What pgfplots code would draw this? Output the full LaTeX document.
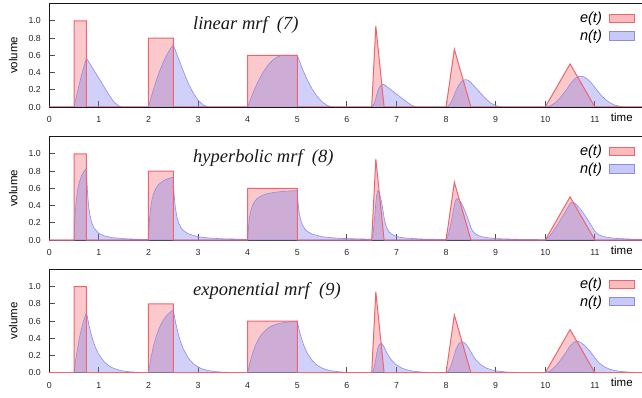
\documentclass[border=0pt]{standalone}
\usepackage{pgfplots}
\usepackage{pgfplotstable}
\pgfplotsset{compat=1.18}
\usepackage{fontspec}
\setmainfont{Liberation Sans}
\newfontfamily\titlefont{Liberation Serif}
\definecolor{efill}{RGB}{245,120,125}
\definecolor{eline}{RGB}{240,100,110}
\definecolor{nfill}{RGB}{120,120,235}
\definecolor{nline}{RGB}{140,140,230}

\pgfplotstableread{
x y
0 0
0.5 0
0.5 1.0
0.75 1.0
0.75 0
2 0
2 0.8
2.5 0.8
2.5 0
4 0
4 0.6
5 0.6
5 0
6.5 0
6.5833 0.94
6.75 0
8 0
8.1667 0.67
8.5 0
10 0
10.5 0.5
11 0
11.95 0
}\edata

\pgfplotstableread{
x y
0 0
0.5 0
0.55 0.1323
0.6 0.2552
0.65 0.3688
0.7 0.4729
0.75 0.5677
0.8 0.5208
0.9 0.4269
1.0 0.3331
1.1 0.2392
1.2 0.1454
1.23 0.1173
1.3 0.0608
1.4 0.0120
1.48 0
2.0 0
2.05 0.1058
2.1 0.2042
2.15 0.2950
2.2 0.3783
2.25 0.4542
2.3 0.5225
2.35 0.5833
2.4 0.6366
2.45 0.6823
2.5 0.7206
2.55 0.6455
2.6 0.5705
2.7 0.4203
2.8 0.2775
2.9 0.1634
3.0 0.0794
3.1 0.0253
3.2 0.0013
3.23 0
4.0 0
4.05 0.0794
4.1 0.1531
4.15 0.2213
4.2 0.2837
4.25 0.3406
4.3 0.3919
4.35 0.4375
4.4 0.4774
4.45 0.5117
4.5 0.5405
4.55 0.5635
4.6 0.5810
4.65 0.5928
4.73 0.6
5.0 0.6
5.1 0.4469
5.2 0.3162
5.3 0.2081
5.4 0.1226
5.5 0.0595
5.6 0.0190
5.7 0.0010
5.73 0
6.5 0
6.55 0.0378
6.5833 0.1032
6.62 0.1796
6.65 0.2240
6.7 0.2630
6.75 0.2607
6.8 0.2387
6.9 0.1945
7.0 0.1504
7.1 0.1063
7.2 0.0622
7.3 0.0207
7.4 0.0019
7.48 0
8.0 0
8.05 0.0135
8.1 0.0526
8.1667 0.1413
8.2 0.1911
8.25 0.2497
8.3 0.2898
8.35 0.3124
8.4 0.3184
8.45 0.3087
8.5 0.2843
8.6 0.2214
8.7 0.1586
8.8 0.0966
8.9 0.0452
9.0 0.0153
9.1 0.0028
9.23 0
10.0 0
10.1 0.0131
10.2 0.0498
10.3 0.1064
10.4 0.1791
10.5 0.2643
10.6 0.3319
10.65 0.3496
10.7 0.3571
10.75 0.3550
10.8 0.3439
10.9 0.2984
11.0 0.2281
11.1 0.1537
11.2 0.0931
11.3 0.0497
11.4 0.0225
11.5 0.0076
11.6 0.0014
11.73 0
11.95 0
}\nlin

\pgfplotstableread{
x y
0 0
0.5 0
0.51 0.1639
0.52 0.2817
0.54 0.4396
0.57 0.5785
0.6 0.6623
0.65 0.7463
0.7 0.7968
0.75 0.8306
0.76 0.6721
0.77 0.5594
0.79 0.4108
0.82 0.2840
0.85 0.2105
0.9 0.1406
1.0 0.0768
1.1 0.0489
1.25 0.0289
1.5 0.0151
1.75 0.0093
2.0 0.0063
2.01 0.1374
2.02 0.2316
2.04 0.3577
2.07 0.4688
2.1 0.5355
2.15 0.6023
2.2 0.6425
2.3 0.6881
2.4 0.7134
2.5 0.7295
2.51 0.5997
2.52 0.5066
2.54 0.3827
2.57 0.2748
2.6 0.2107
2.65 0.1477
2.7 0.1111
2.8 0.0709
3.0 0.0375
3.25 0.0214
3.5 0.0140
4.0 0.0075
4.01 0.1058
4.02 0.1765
4.04 0.2712
4.07 0.3544
4.1 0.4046
4.15 0.4549
4.2 0.4850
4.3 0.5195
4.4 0.5386
4.5 0.5491
4.6 0.5575
4.75 0.5658
5.0 0.5742
5.01 0.4761
5.02 0.4057
5.04 0.3115
5.07 0.2289
5.1 0.1792
5.15 0.1298
5.2 0.1004
5.3 0.0674
5.5 0.0382
5.75 0.0233
6.0 0.0160
6.5 0.0092
6.51 0.0200
6.52 0.0480
6.53 0.0880
6.55 0.1950
6.57 0.3300
6.5833 0.4300
6.6 0.5200
6.62 0.5700
6.65 0.5550
6.7 0.4400
6.75 0.2620
6.76 0.2270
6.77 0.2000
6.8 0.1450
6.85 0.0950
6.9 0.0690
7.0 0.0420
7.1 0.0290
7.2 0.0215
7.5 0.0113
8.0 0.0062
8.02 0.0200
8.05 0.0720
8.1 0.2000
8.15 0.3530
8.1667 0.4080
8.2 0.4700
8.22 0.4800
8.25 0.4760
8.3 0.4380
8.35 0.3800
8.4 0.3100
8.45 0.2320
8.5 0.1480
8.52 0.1200
8.55 0.0930
8.6 0.0670
8.7 0.0410
8.8 0.0290
9.0 0.0160
9.5 0.0072
10.0 0.0045
10.05 0.0215
10.1 0.0540
10.2 0.1360
10.3 0.2280
10.4 0.3250
10.5 0.4240
10.55 0.4420
10.6 0.4270
10.7 0.3650
10.8 0.2850
10.9 0.1960
11.0 0.1020
11.05 0.0700
11.1 0.0540
11.2 0.0360
11.4 0.0190
11.7 0.0110
11.95 0.0085
}\nhyp

\pgfplotstableread{
x y
0 0
0.5 0
0.525 0.1133
0.55 0.2137
0.6 0.3817
0.65 0.5138
0.7 0.6177
0.75 0.6994
0.8 0.5499
0.85 0.4324
0.9 0.3400
0.95 0.2674
1.0 0.2102
1.1 0.1300
1.2 0.0804
1.3 0.0497
1.45 0.0242
1.6 0.0117
1.8 0.0045
2.0 0.0017
2.05 0.1726
2.1 0.3064
2.15 0.4118
2.2 0.4948
2.25 0.5600
2.3 0.6112
2.35 0.6515
2.4 0.6831
2.45 0.7082
2.5 0.7277
2.55 0.5722
2.6 0.4499
2.65 0.3538
2.7 0.2782
2.8 0.1720
2.9 0.1064
3.0 0.0658
3.1 0.0407
3.2 0.0252
3.35 0.0122
3.5 0.0060
3.8 0.0014
4.0 0.0005
4.05 0.1282
4.1 0.2290
4.15 0.3083
4.2 0.3706
4.25 0.4196
4.3 0.4582
4.35 0.4885
4.4 0.5123
4.45 0.5311
4.5 0.5458
4.6 0.5665
4.7 0.5792
4.8 0.5872
4.9 0.5921
5.0 0.5951
5.05 0.4679
5.1 0.3680
5.15 0.2893
5.2 0.2275
5.3 0.1407
5.4 0.0870
5.5 0.0538
5.6 0.0333
5.7 0.0206
5.85 0.0100
6.0 0.0049
6.3 0.0011
6.5 0.0004
6.52 0.0109
6.55 0.0630
6.5833 0.1657
6.62 0.2738
6.65 0.3236
6.7 0.3436
6.75 0.2991
6.8 0.2352
6.85 0.1849
6.9 0.1454
7.0 0.0899
7.1 0.0556
7.2 0.0343
7.35 0.0167
7.5 0.0081
7.7 0.0031
8.0 0.0007
8.05 0.0224
8.1 0.0829
8.1667 0.2091
8.2 0.2722
8.25 0.3318
8.3 0.3571
8.35 0.3555
8.4 0.3328
8.45 0.2935
8.5 0.2411
8.55 0.1896
8.6 0.1491
8.7 0.0922
8.8 0.0570
8.9 0.0352
9.0 0.0218
9.2 0.0083
9.5 0.0020
10.0 0.0001
10.1 0.0206
10.2 0.0715
10.3 0.1412
10.4 0.2224
10.5 0.3108
10.6 0.3624
10.65 0.3649
10.7 0.3561
10.8 0.3141
10.9 0.2499
11.0 0.1721
11.05 0.1353
11.1 0.1064
11.2 0.0658
11.3 0.0407
11.4 0.0252
11.5 0.0156
11.7 0.0059
11.95 0.0018
}\nexp

\pgfplotsset{
  panel/.style={
    scale only axis, width=592.7pt, height=103.4pt,
    xmin=0, xmax=11.95, ymin=0, ymax=1.2,
    separate axis lines,
    axis x line*=box, axis y line*=left,
    axis line style={black!90, line width=0.9pt},
    xtick={0,1,2,3,4,5,6,7,8,9,10,11},
    ytick={0,0.2,0.4,0.6,0.8,1.0},
    xtick pos=left, ytick pos=left,
    tick align=inside,
    major tick length=6pt,
    tick style={draw=black!70, line width=0.8pt},
    /pgf/number format/assume math mode=true,
    ticklabel style={font=\fontsize{8.8}{10}\selectfont, text=black!85},
    xticklabel style={yshift=-6pt},
    yticklabel style={xshift=-5pt, /pgf/number format/.cd, fixed, fixed zerofill, precision=1},
    ylabel={volume},
    ylabel style={font=\fontsize{11.5}{12}\selectfont, at={(axis description cs:-0.0607,0.5)}, anchor=center},
    xlabel={time},
    xlabel style={font=\fontsize{11.5}{12}\selectfont, at={(rel axis cs:0.966,0)}, anchor=center, yshift=-10pt},
    legend plot pos=right,
    legend cell align=right,
    legend style={draw=none, fill=none, font=\fontsize{14.5}{15}\selectfont\itshape,
      at={(rel axis cs:0.994,0.955)}, anchor=north east, row sep=1.5pt, column sep=5pt},
  },
  eleg/.style={legend image code/.code={\draw[fill=efill, fill opacity=0.5, draw=eline, line width=0.8pt] (0pt,-4.2pt) rectangle (25.6pt,4.2pt);}},
  nleg/.style={legend image code/.code={\draw[fill=nfill, fill opacity=0.4, draw=nline, line width=0.8pt] (0pt,-4.2pt) rectangle (25.6pt,4.2pt);}},
}
\tikzset{titl/.style={anchor=west, font=\titlefont\itshape\fontsize{18.5}{18.5}\selectfont, text=black!90}}

\begin{document}
\begin{tikzpicture}
\useasboundingbox (0,0) rectangle (642pt,397pt);
% panel 1
\begin{axis}[panel, at={(49.3pt,290pt)}, anchor=south west]
\addplot[forget plot, draw=none, fill=efill, fill opacity=0.4] table {\edata} \closedcycle;
\addplot[forget plot, nline, line width=0.6pt, fill=nfill, fill opacity=0.35] table {\nlin} \closedcycle;
\addplot[forget plot, eline, line width=1pt] table {\edata};
\addlegendimage{eleg}
\addlegendentry{e(t)}
\addlegendimage{nleg}
\addlegendentry{n(t)}
\node[titl] at (axis cs:2.83,0.95) {linear mrf\hspace{0.5em}(7)};
\end{axis}
% panel 2
\begin{axis}[panel, at={(49.3pt,157pt)}, anchor=south west]
\addplot[forget plot, draw=none, fill=efill, fill opacity=0.4] table {\edata} \closedcycle;
\addplot[forget plot, nline, line width=0.6pt, fill=nfill, fill opacity=0.35] table {\nhyp} \closedcycle;
\addplot[forget plot, eline, line width=1pt] table {\edata};
\addlegendimage{eleg}
\addlegendentry{e(t)}
\addlegendimage{nleg}
\addlegendentry{n(t)}
\node[titl] at (axis cs:2.83,0.95) {hyperbolic mrf\hspace{0.5em}(8)};
\end{axis}
% panel 3
\begin{axis}[panel, at={(49.3pt,24.3pt)}, anchor=south west]
\addplot[forget plot, draw=none, fill=efill, fill opacity=0.4] table {\edata} \closedcycle;
\addplot[forget plot, nline, line width=0.6pt, fill=nfill, fill opacity=0.35] table {\nexp} \closedcycle;
\addplot[forget plot, eline, line width=1pt] table {\edata};
\addlegendimage{eleg}
\addlegendentry{e(t)}
\addlegendimage{nleg}
\addlegendentry{n(t)}
\node[titl] at (axis cs:2.83,0.95) {exponential mrf\hspace{0.5em}(9)};
\end{axis}
\end{tikzpicture}
\end{document}
